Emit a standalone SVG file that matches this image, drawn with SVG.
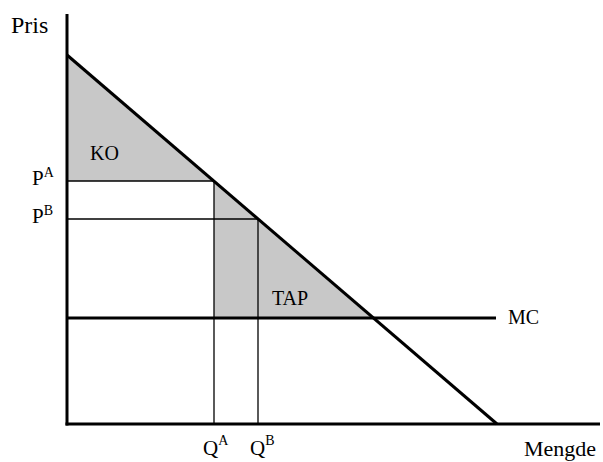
<svg xmlns="http://www.w3.org/2000/svg" width="603" height="462" viewBox="0 0 603 462">
<style>
text{font-family:"Liberation Serif","Times New Roman",serif;font-size:20px;fill:#000}
.lab{font-size:21px}
.sup{font-size:14px}
.thick{stroke:#000;stroke-width:3;fill:none}
.thin{stroke:#000;stroke-width:1.3;fill:none}
.area{fill:#c8c8c8;stroke:none}
</style>
<rect width="603" height="462" fill="#fff"/>
<g id="areas">
<polygon class="area" points="67,55 214,181 67,181"/>
<polygon class="area" points="214,181 373.5,318 214,318"/>
</g>
<g id="connectors">
<line class="thin" x1="67" y1="181" x2="214" y2="181"/>
<line class="thin" x1="67" y1="219" x2="258" y2="219"/>
<line class="thin" x1="214" y1="181" x2="214" y2="424"/>
<line class="thin" x1="258" y1="219" x2="258" y2="424"/>
<line class="thick" x1="67" y1="318" x2="496" y2="318"/>
<line class="thick" x1="67" y1="55" x2="497" y2="424"/>
<line class="thick" x1="67" y1="14" x2="67" y2="425.5"/>
<line class="thick" x1="65.5" y1="424" x2="600" y2="424"/>
</g>
<g id="labels">
<text x="11" y="33" style="font-size:24px">Pris</text>
<text x="90" y="160">KO</text>
<text class="lab" x="32" y="185">P<tspan class="sup" dy="-8">A</tspan></text>
<text class="lab" x="32" y="223">P<tspan class="sup" dy="-8">B</tspan></text>
<text x="272" y="305">TAP</text>
<text x="508" y="324">MC</text>
<text class="lab" x="203" y="455">Q<tspan class="sup" dy="-10">A</tspan></text>
<text class="lab" x="250" y="455">Q<tspan class="sup" dy="-10">B</tspan></text>
<text x="524" y="456" style="font-size:22px">Mengde</text>
</g>
</svg>
